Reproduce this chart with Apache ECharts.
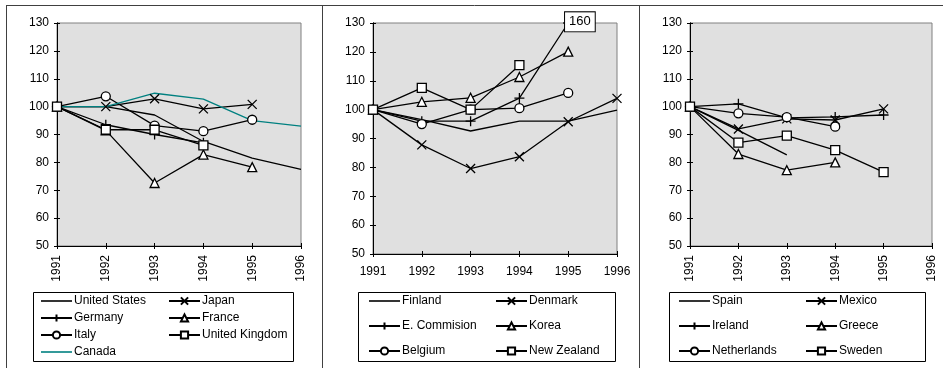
<!DOCTYPE html>
<html><head><meta charset="utf-8">
<script src="https://cdn.jsdelivr.net/npm/echarts@6/dist/echarts.min.js"></script>
<style>html,body{margin:0;padding:0;background:#fff}#c{width:943px;height:368px}</style>
</head><body><div id="c"></div>
<script>
const years = ['1991','1992','1993','1994','1995','1996'];
const yMin = 50, yMax = 130, yStep = 10;

// Panel 1
const unitedStates = [100,100,97,87.5,81.5,77.5];
const japan = [100,100,102.8,99.2,100.8];
const germany = [100,93.5,90,87];
const france = [100,91.5,72.6,82.8,78.3];
const italy = [100,103.7,93.2,91.2,95.3];
const unitedKingdom = [100,91.7,91.7,86.1];
const canada = [100,100,104.8,102.7,95,93];
// Panel 2
const finland = [100,96.5,92.6,96,96,99.8];
const denmark = [100,87.8,79.6,83.7,95.8,103.9];
const eCommision = [100,96,96,104,130];
const eCommisionNotes = [null,null,null,null,'160'];
const korea = [100,102.7,104.1,111.3,120.1];
const belgium = [100,95,100,100.5,105.8];
const newZealand = [100,107.5,100,115.4];
// Panel 3
const spain = [100,91.5,82.7];
const mexico = [100,92,95.6,95.2,99.2];
const ireland = [100,101,96,96.3,97];
const greece = [100,83,77.2,80];
const netherlands = [100,97.6,96.2,92.8];
const sweden = [100,87.1,89.6,84.4,76.5];

const FONT = 'Liberation Sans, Arial, sans-serif';
const LINE_ICON = 'path://M0,0L31,0L31,1.6L0,1.6Z';
const SYM = {
  none: {symbol:'none'},
  x: {symbol:'path://M0,0L10,10M10,0L0,10', symbolSize:9, fill:'transparent'},
  plus: {symbol:'path://M5,0L5,10M0,5L10,5', symbolSize:10, fill:'transparent'},
  tri: {symbol:'triangle', symbolSize:9, fill:'#fff'},
  circ: {symbol:'circle', symbolSize:9, fill:'#fff'},
  sq: {symbol:'rect', symbolSize:9, fill:'#fff'}
};
const plainLines = {};

function mk(name, data, sym, panel, color) {
  const s = SYM[sym];
  const c = color || '#000';
  const o = {
    type:'line', name, data, xAxisIndex: panel*2, yAxisIndex: panel*2,
    symbol: s.symbol, symbolSize: s.symbolSize || 0, showSymbol: sym !== 'none',
    lineStyle:{color:c, width:1.3},
    itemStyle:{color: s.fill || c, borderColor:c, borderWidth:1.3},
    emphasis:{disabled:true}, animation:false, clip:true
  };
  if (sym === 'none') {
    plainLines[name] = c;
    o.itemStyle = {color:c, borderWidth:0};
  }
  return o;
}

const ecData = eCommision.map((v,i) => eCommisionNotes[i] ? {
  value: v,
  label: {show:true, formatter: eCommisionNotes[i], position:[2.5,-5],
    backgroundColor:'#fff', borderColor:'#000', borderWidth:1,
    padding:[2,4,2,4], fontSize:13, lineHeight:15, color:'#000', fontFamily:FONT}
} : v);

const series = [
  mk('United States', unitedStates, 'none', 0),
  mk('Japan', japan, 'x', 0),
  mk('Germany', germany, 'plus', 0),
  mk('France', france, 'tri', 0),
  mk('Italy', italy, 'circ', 0),
  mk('United Kingdom', unitedKingdom, 'sq', 0),
  mk('Canada', canada, 'none', 0, '#008080'),
  mk('Finland', finland, 'none', 1),
  mk('Denmark', denmark, 'x', 1),
  mk('E. Commision', ecData, 'plus', 1),
  mk('Korea', korea, 'tri', 1),
  mk('Belgium', belgium, 'circ', 1),
  mk('New Zealand', newZealand, 'sq', 1),
  mk('Spain', spain, 'none', 2),
  mk('Mexico', mexico, 'x', 2),
  mk('Ireland', ireland, 'plus', 2),
  mk('Greece', greece, 'tri', 2),
  mk('Netherlands', netherlands, 'circ', 2),
  mk('Sweden', sweden, 'sq', 2)
];

const grids = [
  {left:57, top:23, width:244, height:223},
  {left:373, top:23, width:244, height:231},
  {left:690, top:23, width:242, height:223}
].map(g => Object.assign(g, {show:true, backgroundColor:'#e0e0e0', borderColor:'#808080', borderWidth:1, outerBoundsMode:'none', containLabel:false}));

const xAxes = [], yAxes = [];
for (let p = 0; p < 3; p++) {
  for (let k = 0; k < 2; k++) {
    const inside = k === 1;
    xAxes.push({
      type:'category', gridIndex:p, data:years, boundaryGap:false, position:'bottom',
      axisLine:{show:true, onZero:false, lineStyle:{color:'#000', width:1}},
      axisTick:{show:true, inside, length:3, interval:0, lineStyle:{color:'#000', width:1}},
      axisLabel:{show:!inside, interval:0, rotate: p===1 ? 0 : 90, margin: p===1 ? 12 : 9,
        fontSize:12, color:'#000', fontFamily:FONT},
      splitLine:{show:false}
    });
    yAxes.push({
      type:'value', gridIndex:p, min:yMin, max:yMax, interval:yStep, position:'left',
      axisLine:{show:true, onZero:false, lineStyle:{color:'#000', width:1}},
      axisTick:{show:true, inside, length:3, lineStyle:{color:'#000', width:1}},
      axisLabel:{show:!inside, margin:8, fontSize:12, color:'#000', fontFamily:FONT},
      splitLine:{show:false}
    });
  }
}

function leg(names, left, top, gap) {
  const data = names.map(n => plainLines[n] ? {name:n, icon:LINE_ICON, itemStyle:{color:plainLines[n], borderWidth:0}} : n);
  return {
    data, left, top, orient:'vertical', itemWidth:31, itemHeight:9, itemGap:gap,
    selectedMode:false, padding:0,
    textStyle:{fontSize:12, lineHeight:14, color:'#000', fontFamily:FONT, padding:[0,0,0,-3]}
  };
}
const legends = [
  leg(['United States','Germany','Italy','Canada'], 40, 294, 3),
  leg(['Japan','France','United Kingdom'], 168, 294, 3),
  leg(['Finland','E. Commision','Belgium'], 368, 294, 11),
  leg(['Denmark','Korea','New Zealand'], 495, 294, 11),
  leg(['Spain','Ireland','Netherlands'], 678, 294, 11),
  leg(['Mexico','Greece','Sweden'], 805, 294, 11)
];

const ln = (x1,y1,x2,y2) => ({type:'line', shape:{x1,y1,x2,y2}, style:{stroke:'#404040', lineWidth:1}, silent:true});
const box = (x,y,w,h) => ({type:'rect', shape:{x,y,width:w,height:h}, style:{fill:'none', stroke:'#000', lineWidth:1}, silent:true});
const graphic = [
  ln(6,5.5,943,5.5), ln(6.5,5,6.5,368), ln(322.5,5,322.5,368), ln(639.5,5,639.5,368),
  box(33.5,292.5,260,69), box(358.5,292.5,257,69), box(669.5,292.5,256,69)
];

const chart = echarts.init(document.getElementById('c'), null, {renderer:'canvas'});
chart.setOption({
  animation:false, backgroundColor:'#fff',
  grid: grids, xAxis: xAxes, yAxis: yAxes, legend: legends, series, graphic
});
</script></body></html>
